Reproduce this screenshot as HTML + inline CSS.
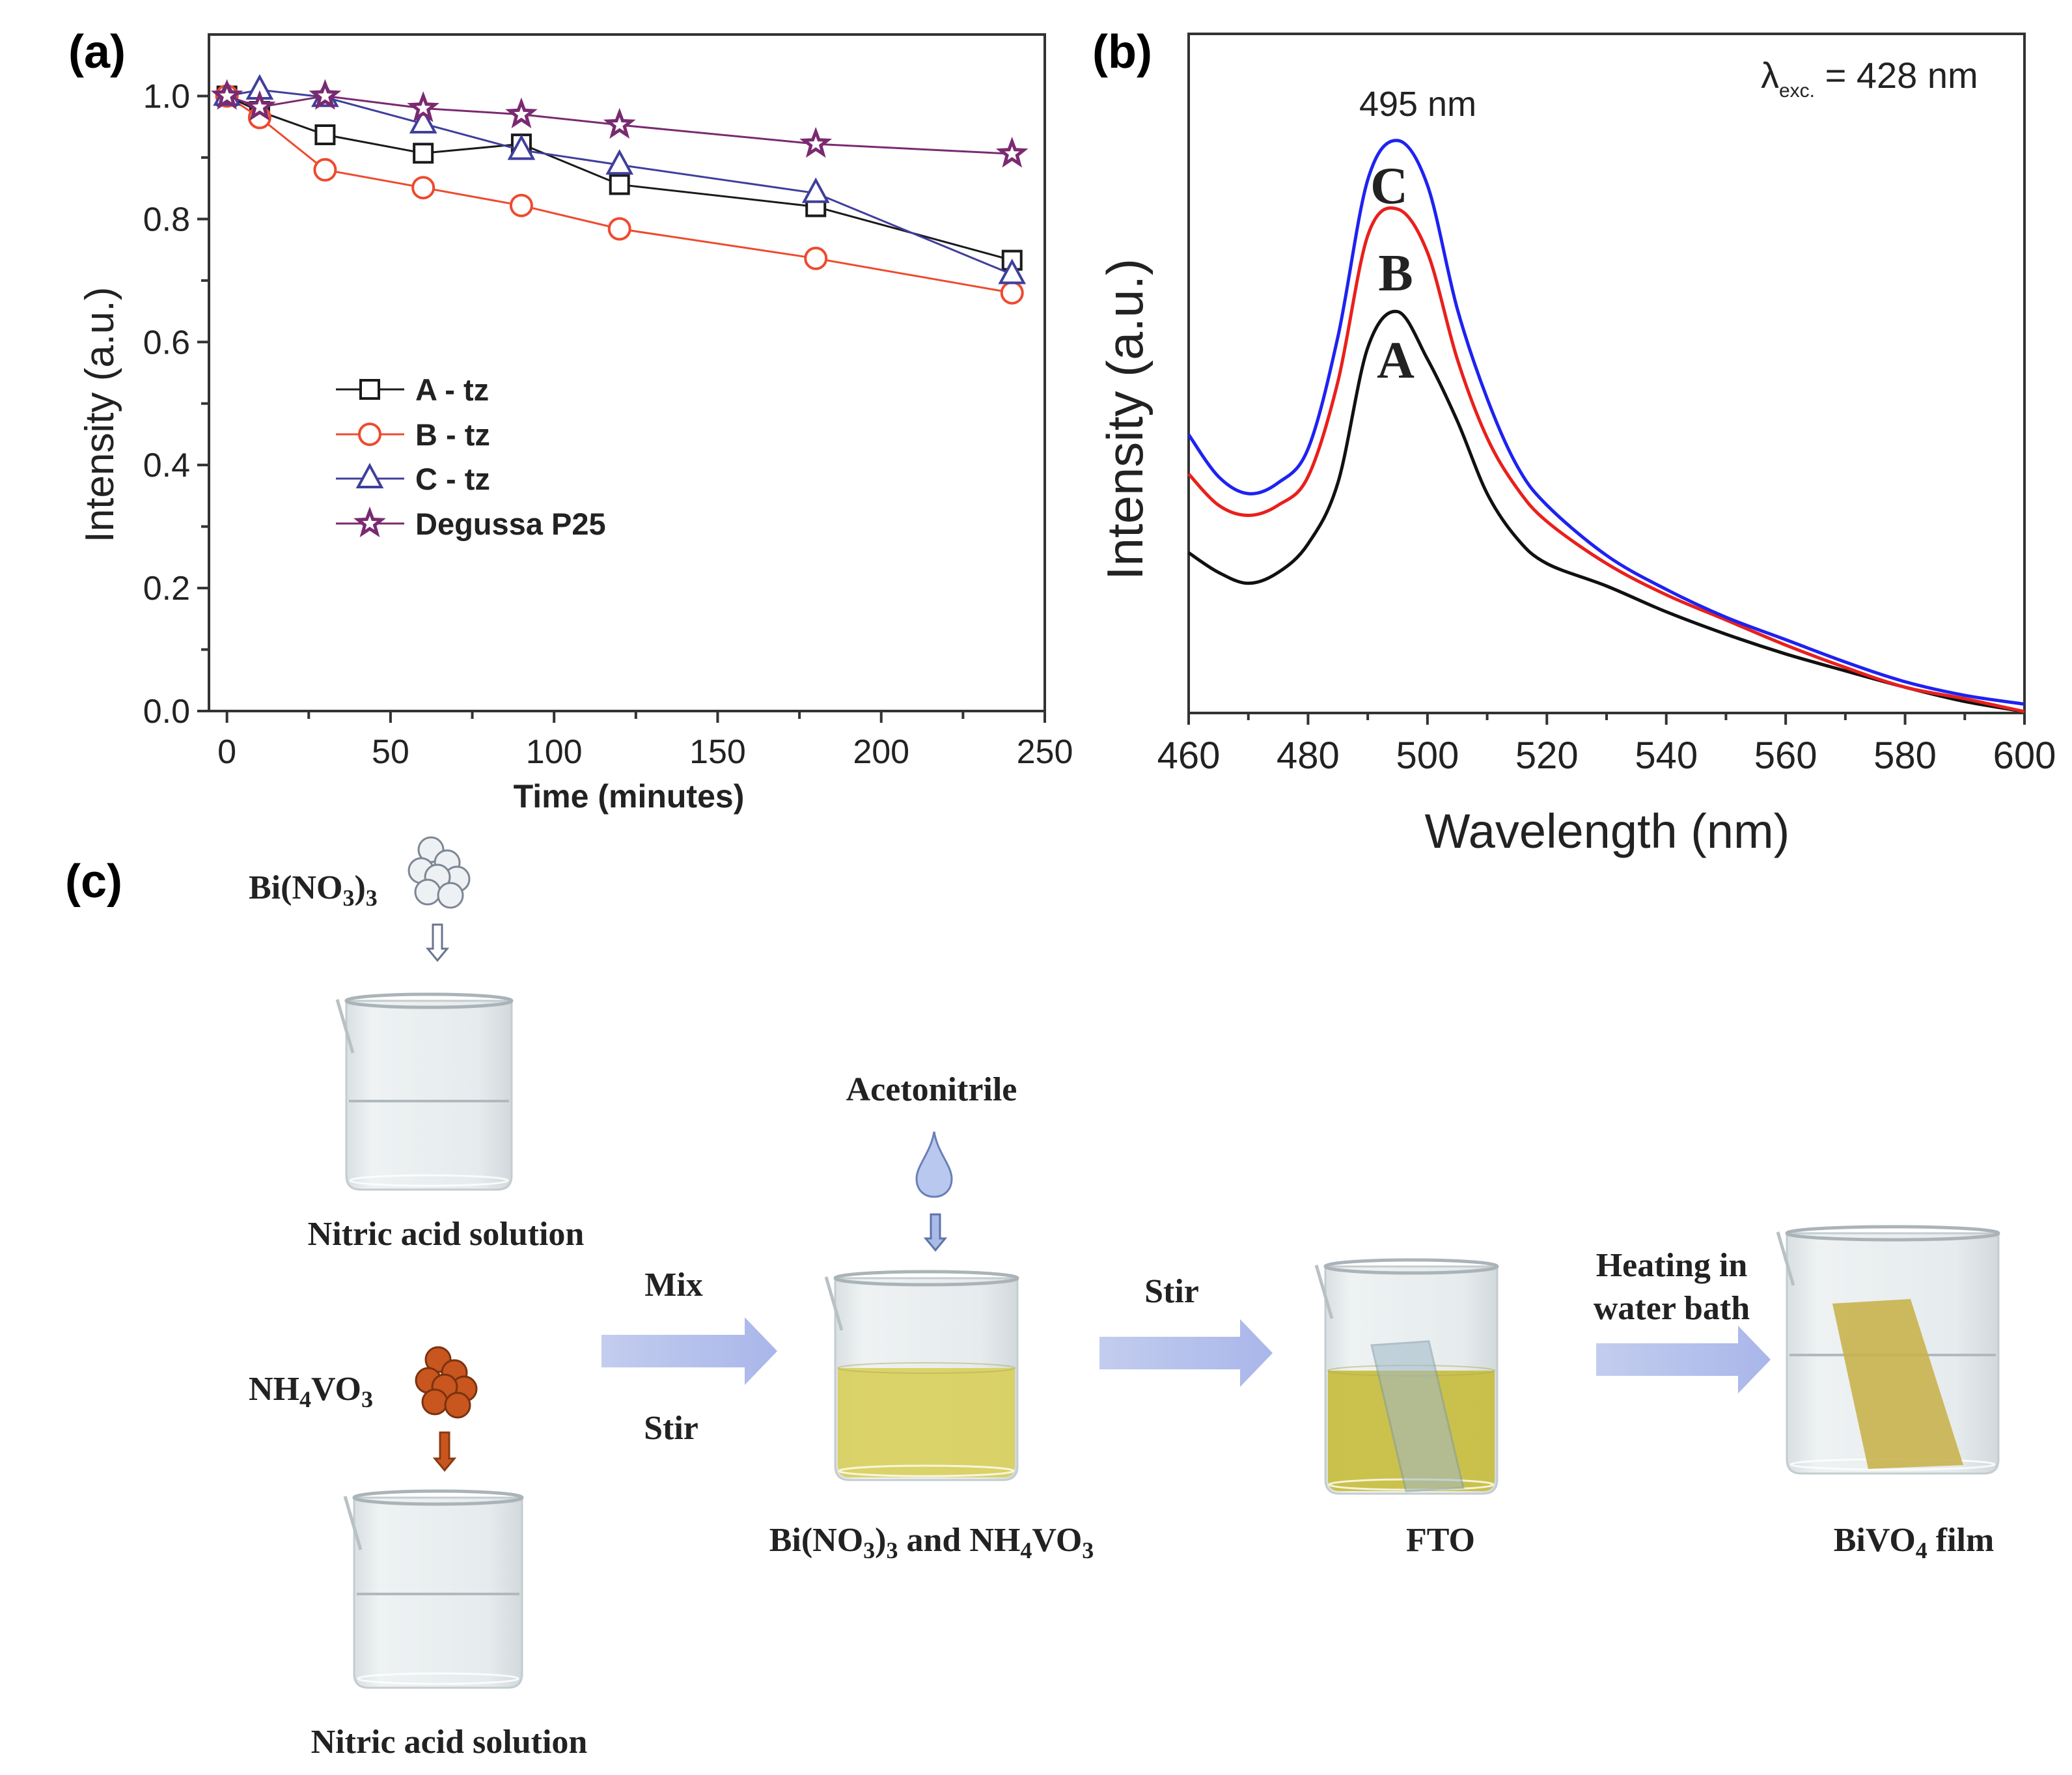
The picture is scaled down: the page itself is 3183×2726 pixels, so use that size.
<!DOCTYPE html>
<html><head><meta charset="utf-8"><style>
html,body{margin:0;padding:0;background:#fff}
svg{display:block}
.sans{font-family:"Liberation Sans",sans-serif}
.serif{font-family:"Liberation Serif",serif;font-weight:bold}
</style></head><body>
<svg id="fig" width="3183" height="2726" viewBox="0 0 3183 2726" xmlns="http://www.w3.org/2000/svg">
<defs>
<linearGradient id="glass" x1="0" x2="1" y1="0" y2="0">
<stop offset="0" stop-color="#d9e0e2"/><stop offset="0.15" stop-color="#eef2f3"/><stop offset="0.8" stop-color="#e6ebed"/><stop offset="1" stop-color="#d2d9dc"/></linearGradient>
<linearGradient id="arrowg" x1="0" x2="1"><stop offset="0" stop-color="#c3cdee"/><stop offset="1" stop-color="#a9b6ea"/></linearGradient>
</defs>
<g id="panelA"></g>
<g id="panelB"></g>
<g id="panelC"></g>
</svg>
<script>
// ---------- Panel (a) data ----------
const timeMinutes = [0, 10, 30, 60, 90, 120, 180, 240];
const seriesA = [1.0, 0.975, 0.937, 0.907, 0.922, 0.856, 0.82, 0.733];
const seriesB = [1.0, 0.965, 0.88, 0.851, 0.822, 0.784, 0.736, 0.68];
const seriesC = [1.0, 1.01, 0.998, 0.955, 0.912, 0.888, 0.842, 0.71];
const seriesP25 = [1.0, 0.982, 1.0, 0.98, 0.97, 0.953, 0.922, 0.906];
const legendNames = ["A - tz", "B - tz", "C - tz", "Degussa P25"];
const xTicksA = [0, 50, 100, 150, 200, 250];
const yTicksA = [0.0, 0.2, 0.4, 0.6, 0.8, 1.0];
// ---------- Panel (b) data ----------
const wavelength = [460,465,470,475,480,485,490,495,500,505,510,515,520,530,540,550,560,570,580,590,600];
const spectrumC = [41.0,34.8,32.3,33.9,38.9,55.4,78.5,84.3,77.7,59.5,46.3,36.4,30.6,23.2,18.2,14.1,10.8,7.5,4.6,2.6,1.3];
const spectrumB = [35.2,30.6,29.1,30.6,34.8,48.8,70.3,74.2,67.8,52.1,40.5,33.1,28.2,22.0,17.4,13.7,10.0,6.7,3.8,2.1,0.2];
const spectrumA = [23.6,20.7,19.1,20.7,24.9,33.9,53.8,59.1,52.1,43.0,32.3,25.7,22.0,18.7,14.9,11.6,8.7,6.2,3.8,1.7,0.2];
const xTicksB = [460,480,500,520,540,560,580,600];

const NS = "http://www.w3.org/2000/svg";
function mk(parent, tag, attrs, text){
  const e = document.createElementNS(NS, tag);
  for (const k in attrs) e.setAttribute(k, attrs[k]);
  if (text !== undefined) e.textContent = text;
  parent.appendChild(e);
  return e;
}

// ===== Panel A =====
(function(){
  const g = document.getElementById('panelA');
  const L=321, R=1605, T=53, B=1092;
  const xs = v => L + (v + 5.5) / 255.5 * (R - L);
  const ys = v => B - v / 1.1 * (B - T);
  let t = mk(g,'text',{x:105,y:104,class:'sans','font-size':72,'font-weight':'bold'},'(a)');
   
  let f = mk(g,'rect',{x:L,y:T,width:R-L,height:B-T,fill:'none',stroke:'#333','stroke-width':4});
   
  for (let v=0; v<=250; v+=25){
    const tk = mk(g,'line',{x1:xs(v),x2:xs(v),y1:B,y2:B+(v%50===0?18:12),stroke:'#333','stroke-width':4});
     
  }
  xTicksA.forEach(v=>{
    const tl = mk(g,'text',{x:xs(v),y:1172,'text-anchor':'middle',class:'sans','font-size':52,fill:'#222'},String(v));
     
  });
  for (let i=0;i<=10;i++){
    const v=i/10;
    const tk = mk(g,'line',{x1:L,x2:L-(i%2===0?18:12),y1:ys(v),y2:ys(v),stroke:'#333','stroke-width':4});
     
  }
  yTicksA.forEach(v=>{
    const tl = mk(g,'text',{x:292,y:ys(v)+18,'text-anchor':'end',class:'sans','font-size':52,fill:'#222'},v.toFixed(1));
     
  });
  let xt = mk(g,'text',{x:966,y:1240,'text-anchor':'middle',class:'sans','font-size':50,'font-weight':'bold',fill:'#222'},'Time (minutes)');
   
  let yt = mk(g,'text',{x:0,y:0,'text-anchor':'middle',class:'sans','font-size':62,fill:'#222',transform:'translate(174,637) rotate(-90)'},'Intensity (a.u.)');
   

  const colors=['#1a1a1a','#ee4a2e','#3f3f9c','#7a2a70'];
  const all=[seriesA,seriesB,seriesC,seriesP25];
  const shapes=['square','circle','triangle','star'];
  function marker(parent,shape,cx,cy,col){
    let m;
    if(shape==='square') m=mk(parent,'rect',{x:cx-14,y:cy-14,width:28,height:28,fill:'#fff',stroke:col,'stroke-width':4});
    else if(shape==='circle') m=mk(parent,'circle',{cx:cx,cy:cy,r:16,fill:'#fff',stroke:col,'stroke-width':4});
    else if(shape==='triangle') m=mk(parent,'polygon',{points:`${cx},${cy-20} ${cx-18},${cy+13} ${cx+18},${cy+13}`,fill:'#fff',stroke:col,'stroke-width':4});
    else {
      let p=[];for(let k=0;k<10;k++){const r=k%2?8:19;const a=-Math.PI/2+k*Math.PI/5;p.push((cx+r*Math.cos(a)).toFixed(1)+','+(cy+r*Math.sin(a)).toFixed(1));}
      m=mk(parent,'polygon',{points:p.join(' '),fill:'#fff',stroke:col,'stroke-width':5});
    }
    return m;
  }
  all.forEach((s,si)=>{
    const sg = mk(g,'g',{});
     
    const ln = mk(sg,'polyline',{points:s.map((v,i)=>xs(timeMinutes[i])+','+ys(v)).join(' '),fill:'none',stroke:colors[si],'stroke-width':3});
     
    s.forEach((v,i)=>{
      const m = marker(sg,shapes[si],xs(timeMinutes[i]),ys(v),colors[si]);
       
    });
  });
  legendNames.forEach((n,i)=>{
    const y=[598,667,735,804][i];
    const lg = mk(g,'g',{});
     
    mk(lg,'line',{x1:516,x2:621,y1:y,y2:y,stroke:colors[i],'stroke-width':3});
    marker(lg,shapes[i],568,y,colors[i]);
    mk(lg,'text',{x:638,y:y+17,class:'sans','font-size':47,'font-weight':'bold',fill:'#222'},n);
  });
})();

// ===== Panel B =====
(function(){
  const g = document.getElementById('panelB');
  const L=1826, R=3110, T=52, B=1095;
  const xs = v => L + (v-460)/140*(R-L);
  const ys = v => B - v/100*(B-T);
  function smooth(pts){
    let d='M'+pts[0][0].toFixed(1)+','+pts[0][1].toFixed(1);
    for(let i=0;i<pts.length-1;i++){
      const p0=pts[Math.max(i-1,0)],p1=pts[i],p2=pts[i+1],p3=pts[Math.min(i+2,pts.length-1)];
      const c1=[p1[0]+(p2[0]-p0[0])/6,p1[1]+(p2[1]-p0[1])/6];
      const c2=[p2[0]-(p3[0]-p1[0])/6,p2[1]-(p3[1]-p1[1])/6];
      d+=` C${c1[0].toFixed(1)},${c1[1].toFixed(1)} ${c2[0].toFixed(1)},${c2[1].toFixed(1)} ${p2[0].toFixed(1)},${p2[1].toFixed(1)}`;
    }
    return d;
  }
  let t = mk(g,'text',{x:1678,y:104,class:'sans','font-size':72,'font-weight':'bold'},'(b)');
   
  let f = mk(g,'rect',{x:L,y:T,width:R-L,height:B-T,fill:'none',stroke:'#333','stroke-width':4});
   
  for(let v=460; v<=600; v+=10){
    const tk = mk(g,'line',{x1:xs(v),x2:xs(v),y1:B,y2:B+(v%20===0?18:11),stroke:'#333','stroke-width':4});
     
  }
  xTicksB.forEach(v=>{
    const tl = mk(g,'text',{x:xs(v),y:1180,'text-anchor':'middle',class:'sans','font-size':58,fill:'#222'},String(v));
     
  });
  let xt = mk(g,'text',{x:2469,y:1302,'text-anchor':'middle',class:'sans','font-size':74,fill:'#222'},'Wavelength (nm)');
   
  let yt = mk(g,'text',{x:0,y:0,'text-anchor':'middle',class:'sans','font-size':78,fill:'#222',transform:'translate(1755,644) rotate(-90)'},'Intensity (a.u.)');
   
  const specs=[[spectrumA,'#111','spectrum-a'],[spectrumB,'#e8201c','spectrum-b'],[spectrumC,'#1e22f0','spectrum-c']];
  specs.forEach(([s,c,n])=>{
    const p = mk(g,'path',{d:smooth(s.map((v,i)=>[xs(wavelength[i]),ys(v)])),fill:'none',stroke:c,'stroke-width':5,'stroke-linejoin':'round'});
     
  });
  [['C',2134,312],['B',2144,446],['A',2144,580]].forEach(([l,x,y])=>{
    const tl = mk(g,'text',{x:x,y:y,'text-anchor':'middle',class:'serif','font-size':80,fill:'#222'},l);
     
  });
  let pk = mk(g,'text',{x:2178,y:178,'text-anchor':'middle',class:'sans','font-size':54,fill:'#222'},'495 nm');
   
  let ex = mk(g,'text',{x:2705,y:135,class:'sans','font-size':56,fill:'#222'});
   
  mk(ex,'tspan',{},'λ');
  mk(ex,'tspan',{'font-size':30,dy:14},'exc.');
  mk(ex,'tspan',{'font-size':56,dy:-14},' = 428 nm');
})();

// ===== Panel C =====
(function(){
  const g = document.getElementById('panelC');
  let t = mk(g,'text',{x:100,y:1378,class:'sans','font-size':72,'font-weight':'bold'},'(c)');
   
  function beaker(name,x,y,w,h,liqTop,liqCol){
    const bg = mk(g,'g',{});
     
    const r=22;
    mk(bg,'path',{d:`M${x},${y+10} L${x},${y+h-r} Q${x},${y+h} ${x+r},${y+h} L${x+w-r},${y+h} Q${x+w},${y+h} ${x+w},${y+h-r} L${x+w},${y+10} Z`,fill:'url(#glass)',stroke:'#c4cccf','stroke-width':3});
    if(liqTop!==null){
      mk(bg,'path',{d:`M${x+4},${liqTop} L${x+4},${y+h-r} Q${x+4},${y+h-4} ${x+r},${y+h-4} L${x+w-r},${y+h-4} Q${x+w-4},${y+h-4} ${x+w-4},${y+h-r} L${x+w-4},${liqTop} Z`,fill:liqCol,opacity:0.9});
      mk(bg,'ellipse',{cx:x+w/2,cy:liqTop,rx:w/2-4,ry:8,fill:'none',stroke:'#b0aa50','stroke-width':2,opacity:0.5});
    }
    mk(bg,'ellipse',{cx:x+w/2,cy:y+10,rx:w/2,ry:10,fill:'none',stroke:'#aab4b8','stroke-width':5});
    mk(bg,'path',{d:`M${x-14},${y+8} L${x+10},${y+90}`,stroke:'#b8c2c5','stroke-width':5,fill:'none'});
    mk(bg,'ellipse',{cx:x+w/2,cy:y+h-14,rx:w/2-6,ry:8,fill:'none',stroke:'#fff','stroke-width':3,opacity:0.8});
    return bg;
  }
  function waterLine(x,w,y){ const l=mk(g,'line',{x1:x+4,x2:x+w-4,y1:y,y2:y,stroke:'#b0b9bd','stroke-width':4});   }
  function label(txt,x,y,anchor,name){
    const e=mk(g,'text',{x:x,y:y,'text-anchor':anchor||'middle',class:'serif','font-size':52,fill:'#222'});
     
    let base=true;
    txt.forEach(p=>{
      if(typeof p==='string'){ mk(e,'tspan',{'font-size':52,dy:base?0:-11},p); base=true; }
      else { mk(e,'tspan',{'font-size':36,dy:base?11:0},p.t); base=false; }
    });
    return e;
  }
  function bigArrow(name,x1,x2,yc){
    const p=mk(g,'path',{d:`M${x1},${yc-25} L${x2-50},${yc-25} L${x2-50},${yc-52} L${x2},${yc} L${x2-50},${yc+52} L${x2-50},${yc+25} L${x1},${yc+25} Z`,fill:'url(#arrowg)'});
     
  }
  function smallArrow(name,x,y1,y2,fill,stroke){
    const p=mk(g,'path',{d:`M${x-7},${y1} L${x+7},${y1} L${x+7},${y2-18} L${x+15},${y2-18} L${x},${y2} L${x-15},${y2-18} L${x-7},${y2-18} Z`,fill:fill,stroke:stroke,'stroke-width':3});
     
  }
  function balls(name,cx,cy,fill,stroke){
    const bg=mk(g,'g',{});  
    [[-10,-40],[15,-20],[-25,-8],[30,5],[0,2],[-15,25],[20,30]].forEach(([dx,dy])=>mk(bg,'circle',{cx:cx+dx,cy:cy+dy,r:19,fill:fill,stroke:stroke,'stroke-width':3}));
  }
  label(['Bi(NO',{t:'3'},')',{t:'3'}],382,1380,'start','bi-nitrate-label');
  balls('bi-nitrate-particles',672,1345,'#eef1f4','#7d8794');
  smallArrow('bi-arrow',672,1420,1475,'#fff','#6a7590');
  beaker('beaker-nitric-acid-1',532,1527,254,300,null);
  waterLine(532,254,1691);
  label(['Nitric acid solution'],685,1912,'middle','nitric-acid-label-1');
  label(['NH',{t:'4'},'VO',{t:'3'}],382,2150,'start','ammonium-vanadate-label');
  balls('vanadate-particles',683,2128,'#c8561e','#7a3210');
  smallArrow('vanadate-arrow',683,2200,2258,'#c8561e','#8a3a10');
  beaker('beaker-nitric-acid-2',544,2290,258,302,null);
  waterLine(544,258,2448);
  label(['Nitric acid solution'],690,2692,'middle','nitric-acid-label-2');
  label(['Mix'],1035,1990,'middle','mix-label');
  label(['Stir'],1031,2210,'middle','stir-label-1');
  bigArrow('mix-arrow',924,1194,2075);
  label(['Acetonitrile'],1431,1690,'middle','acetonitrile-label');
  const drop=mk(g,'path',{d:'M1435,1738 C1430,1770 1408,1790 1408,1810 C1408,1828 1420,1838 1435,1838 C1450,1838 1462,1828 1462,1810 C1462,1790 1440,1770 1435,1738 Z',fill:'#b9c8ee',stroke:'#6a7fb8','stroke-width':3});
   
  smallArrow('acetonitrile-arrow',1437,1865,1920,'#a9bbe8','#5f73a8');
  beaker('beaker-mixture',1283,1953,280,320,2101,'#d8cf5a');
  label(['Bi(NO',{t:'3'},')',{t:'3'},' and NH',{t:'4'},'VO',{t:'3'}],1431,2382,'middle','mixture-label');
  label(['Stir'],1800,2000,'middle','stir-label-2');
  bigArrow('stir-arrow',1689,1955,2078);
  beaker('beaker-fto',2036,1935,264,359,2105,'#c6bc3a');
  const slide=mk(g,'polygon',{points:'2107,2066 2195,2060 2248,2285 2160,2290',fill:'#9fb8c8',opacity:0.55,stroke:'#7f9aa8','stroke-width':3});
   
  label(['FTO'],2213,2382,'middle','fto-label');
  label(['Heating in'],2568,1960,'middle','heating-label');
  label(['water bath'],2568,2026,'middle','water-bath-label');
  bigArrow('heating-arrow',2452,2720,2088);
  beaker('beaker-bivo4',2745,1884,325,379,null);
  waterLine(2745,325,2081);
  const film=mk(g,'polygon',{points:'2815,2002 2935,1995 3016,2250 2870,2256',fill:'#c9b24e',opacity:0.9});
   
  label(['BiVO',{t:'4'},' film'],2940,2382,'middle','bivo4-label');
})();
</script>
</body></html>
